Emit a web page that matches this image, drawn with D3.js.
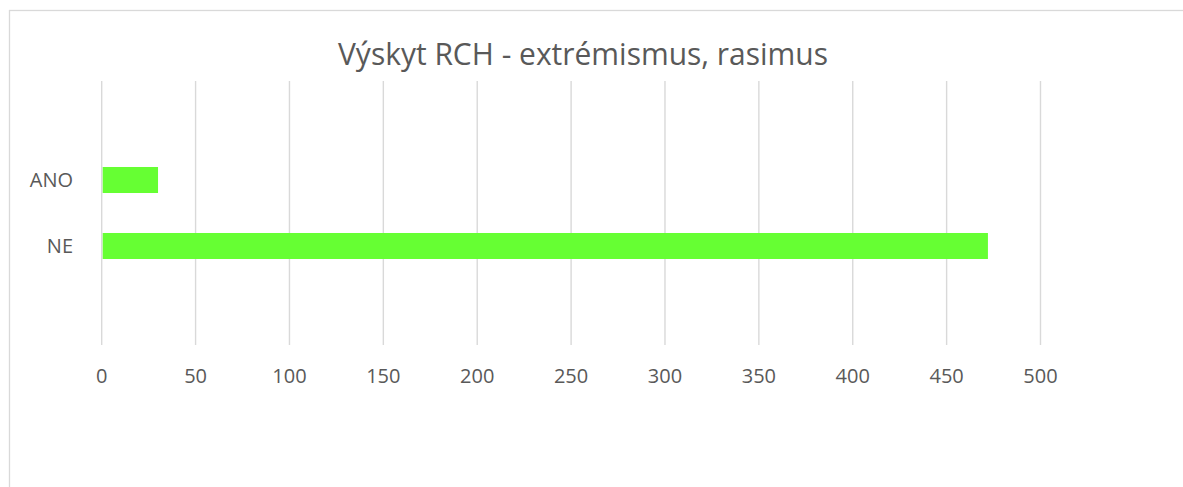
<!DOCTYPE html>
<html>
<head>
<meta charset="utf-8">
<script src="https://cdn.jsdelivr.net/npm/d3@7"></script>
<style>
  body { margin: 0; background: #fff; }
  text { font-family: "Open Sans", sans-serif; fill: #595959; }
</style>
</head>
<body>
<script>
// data
var title = "Výskyt RCH - extrémismus, rasimus";
var categories = ["", "ANO", "NE", " "];   // empty slots above and below, like the original
var values = [null, 30, 472, null];
var ticks = [0, 50, 100, 150, 200, 250, 300, 350, 400, 450, 500];

var width = 1183,
    height = 487;

var svg = d3.select("body")
            .append("svg")
            .attr("width", width)
            .attr("height", height);

// chart frame
svg.append("rect")
   .attr("x", 9.5)
   .attr("y", 10.5)
   .attr("width", 1300)
   .attr("height", 600)
   .attr("fill", "none")
   .attr("stroke", "#d9d9d9")
   .attr("stroke-width", 1.3);

var x = d3.scaleLinear()
          .domain([0, 500])
          .range([101.7, 1040.5]);

var y = d3.scaleBand()
          .domain(categories)
          .range([81, 345])
          .paddingInner(0.606)
          .paddingOuter(0.303);

// gridlines
svg.append("g")
   .selectAll("line")
   .data(ticks)
   .enter()
   .append("line")
      .attr("x1", d => x(d))
      .attr("x2", d => x(d))
      .attr("y1", 81)
      .attr("y2", 345)
      .attr("stroke", "#d9d9d9")
      .attr("stroke-width", 1.4);

// bars
svg.append("g")
   .selectAll("rect")
   .data(categories.map((c, i) => ({cat: c, val: values[i]})).filter(d => d.val != null))
   .enter()
   .append("rect")
      .attr("x", x(0) + 1)
      .attr("y", d => y(d.cat))
      .attr("width", d => x(d.val) - x(0) - 1)
      .attr("height", y.bandwidth())
      .attr("fill", "#66ff33");

// x tick labels
svg.append("g")
   .selectAll("text")
   .data(ticks)
   .enter()
   .append("text")
      .attr("x", d => x(d))
      .attr("y", 383)
      .attr("text-anchor", "middle")
      .style("font-size", "20px")
      .text(d => d);

// category labels
svg.append("g")
   .selectAll("text")
   .data(categories.filter(c => c.trim() != ""))
   .enter()
   .append("text")
      .attr("x", 73)
      .attr("y", d => y(d) + y.bandwidth() / 2)
      .attr("dy", "0.36em")
      .attr("text-anchor", "end")
      .style("font-size", "20px")
      .text(d => d);

// title, stretched to the original width
svg.append("text")
   .attr("x", 583)
   .attr("y", 65)
   .attr("text-anchor", "middle")
   .attr("textLength", 490)
   .attr("lengthAdjust", "spacingAndGlyphs")
   .style("font-size", "31px")
   .text(title);
</script>
</body>
</html>
